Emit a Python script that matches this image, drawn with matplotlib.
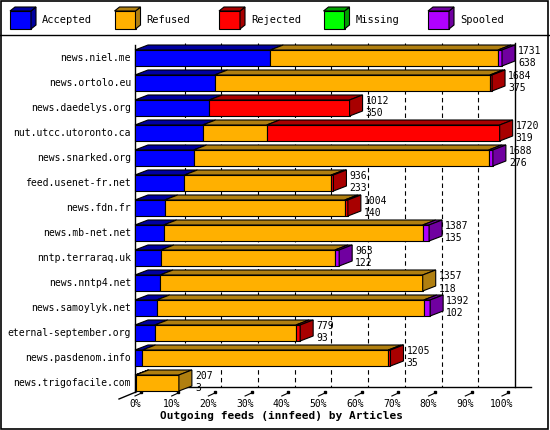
import matplotlib
matplotlib.use('Agg')
import matplotlib.pyplot as plt
from matplotlib.patches import Polygon

# Data (articles per outgoing feed)
hosts = ['news.niel.me', 'news.ortolo.eu', 'news.daedelys.org', 'nut.utcc.utoronto.ca',
         'news.snarked.org', 'feed.usenet-fr.net', 'news.fdn.fr', 'news.mb-net.net',
         'nntp.terraraq.uk', 'news.nntp4.net', 'news.samoylyk.net', 'eternal-september.org',
         'news.pasdenom.info', 'news.trigofacile.com']
accepted = [638, 375, 350, 319, 276, 233, 140, 135, 122, 118, 102, 93, 35, 3]
refused = [1074, 1299, 0, 302, 1392, 693, 849, 1222, 821, 1239, 1260, 666, 1160, 204]
rejected = [0, 10, 662, 1099, 0, 10, 15, 0, 0, 0, 0, 20, 10, 0]
missing = [0] * 14
spooled = [19, 0, 0, 0, 20, 0, 0, 30, 20, 0, 30, 0, 0, 0]
totals = [1731, 1684, 1012, 1720, 1688, 936, 1004, 1387, 963, 1357, 1392, 779, 1205, 207]

series = ['Accepted', 'Refused', 'Rejected', 'Missing', 'Spooled']
front = ['#0000FF', '#FFB000', '#FF0000', '#00FF00', '#B000FF']
shade = ['#0000A0', '#B07F10', '#A80000', '#00A000', '#7000A0']
ticks = list(range(0, 101, 10))

W, H = 550, 430
PX = 3.67          # pixels per percent
X0 = 135           # px of 0%
Y0, ROW = 58, 25   # px of first bar centre, row spacing
DX, DY = 13 / PX, 5 / ROW
HALF = 8 / ROW

fig = plt.figure(figsize=(W / 100, H / 100), dpi=100)
ax = fig.add_axes([0, 0, 1, 1])
ax.set_xlim(-X0 / PX, (W - X0) / PX)
ax.set_ylim((H - Y0) / ROW, -Y0 / ROW)
ax.axis('off')
mono = 'DejaVu Sans Mono'

def py(p):
    return (p - Y0) / ROW

# frame and legend separator
fig.add_artist(plt.Rectangle((0.002, 0.002), 0.995, 0.995, fill=False, lw=1.2, ec='k',
                             transform=fig.transFigure))
fig.add_artist(plt.Line2D([0, 1], [1 - 35 / H, 1 - 35 / H], color='k', lw=1,
                          transform=fig.transFigure))

# legend
for k, name in enumerate(series):
    lx = 10 + k * 104.5
    f = lambda x, y: (x / W, 1 - y / H)
    pts_f = [f(lx, 11), f(lx + 21, 11), f(lx + 21, 29), f(lx, 29)]
    pts_s = [f(lx + 21, 11), f(lx + 26, 7), f(lx + 26, 25), f(lx + 21, 29)]
    pts_t = [f(lx, 11), f(lx + 5, 7), f(lx + 26, 7), f(lx + 21, 11)]
    for pts, c in ((pts_f, front[k]), (pts_s, shade[k]), (pts_t, shade[k])):
        fig.add_artist(Polygon(pts, closed=True, fc=c, ec='k', lw=0.8,
                               transform=fig.transFigure))
    fig.text((lx + 32) / W, 1 - 20 / H, name, family=mono, fontsize=7.5, va='center')

# axes
top, floor_f, floor_b = py(43), py(392), py(387)
ax.plot([0, 0], [py(45), floor_f], color='k', lw=1)
ax.plot([100 + DX, 100 + DX], [py(43), floor_b], color='k', lw=1)
ax.plot([DX, 100 + DX + 16 / PX], [floor_b, floor_b], color='k', lw=1)
ax.plot([-16 / PX, DX], [py(399), floor_b], color='k', lw=1)
for t in ticks:
    if 0 < t < 100:
        ax.plot([t + DX, t + DX], [top, floor_b], color='k', lw=0.8, ls=(0, (4, 3)), zorder=1)
    ax.plot([t, t + DX * 0.5], [py(396), py(393)], color='k', lw=0.8)
    ax.plot([t + DX * 0.5], [py(392.5)], 's', ms=1.8, color='k')
    ax.text(t, py(404), f'{t}%', family=mono, fontsize=7, ha='center', va='center')
ax.text(40, py(416), 'Outgoing feeds (innfeed) by Articles', family=mono,
        fontsize=8, fontweight='bold', ha='center', va='center')

# bars
mx = max(totals)
for i, host in enumerate(hosts):
    vals = [accepted[i], refused[i], rejected[i], missing[i], spooled[i]]
    y1, y2 = i - HALF, i + HALF
    x = 0
    last = 0
    for k, v in enumerate(vals):
        if v <= 0:
            continue
        w = v / mx * 100
        ax.add_patch(Polygon([(x, y1), (x + w, y1), (x + w, y2), (x, y2)],
                             fc=front[k], ec='k', lw=0.8, zorder=3))
        ax.add_patch(Polygon([(x, y1), (x + DX, y1 - DY), (x + w + DX, y1 - DY), (x + w, y1)],
                             fc=shade[k], ec='k', lw=0.8, zorder=3))
        x += w
        last = k
    ax.add_patch(Polygon([(x, y1), (x + DX, y1 - DY), (x + DX, y2 - DY), (x, y2)],
                         fc=shade[last], ec='k', lw=0.8, zorder=3))
    ax.text(-4 / PX, i, host, family=mono, fontsize=7, ha='right', va='center')
    ax.text(x + DX + 3 / PX, i - 0.26, str(totals[i]), family=mono, fontsize=7,
            ha='left', va='center', zorder=4)
    ax.text(x + DX + 3 / PX, i + 0.22, str(accepted[i]), family=mono, fontsize=7,
            ha='left', va='center', zorder=4)

fig.savefig('out.png', dpi=100)
